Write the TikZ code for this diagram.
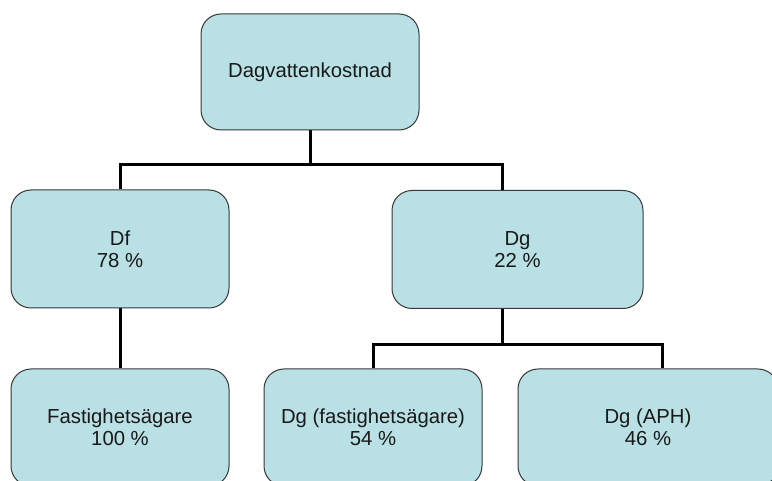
\documentclass[tikz,border=0pt]{standalone}
\usepackage{fontspec}
\setmainfont{Liberation Sans}
\usetikzlibrary{calc,backgrounds}
\definecolor{boxfill}{RGB}{185,224,228}
\definecolor{boxline}{RGB}{55,55,55}
\definecolor{txt}{RGB}{25,25,25}
\begin{document}
\begin{tikzpicture}[x=1pt,y=-1pt,
  box/.style={draw=boxline, line width=1pt, fill=boxfill, rounded corners=20pt,
    inner sep=0pt, align=center, text=txt, font=\fontsize{20.3}{22}\selectfont},
  conn/.style={line width=3pt, black}]
\useasboundingbox (0,0) rectangle (772,481);
\clip (0,0) rectangle (772,481);
\node[box, minimum width=218pt, minimum height=116pt] (top) at (310,72) {Dagvattenkostnad};
\node[box, minimum width=218pt, minimum height=118pt] (df) at (120,249) {Df\\78 \%};
\node[box, minimum width=251pt, minimum height=118pt] (dg) at (517.5,249.5) {Dg\\22 \%};
\node[box, minimum width=218pt, minimum height=117pt] (fa) at (120,427.5) {Fastighetsägare\\100 \%};
\node[box, minimum width=218pt, minimum height=117pt] (dgf) at (373,427.5) {Dg (fastighetsägare)\\54 \%};
\node[box, minimum width=260pt, minimum height=117pt] (aph) at (648,427.5) {Dg (APH)\\46 \%};
\coordinate (b1) at (310,165);
\coordinate (dgin) at ($(dg.north)+(-15.5,0)$);
\coordinate (dgout) at ($(dg.south)+(-15.5,0)$);
\coordinate (b2) at ($(dgout)+(0,35.5)$);
\coordinate (aphin) at ($(aph.north)+(14,0)$);
\begin{pgfonlayer}{background}
\draw[conn] (top.south) -- (b1);
\draw[conn] (df.north) |- (b1) -| (dgin);
\draw[conn] (df.south) -- (fa.north);
\draw[conn] (dgout) -- (b2);
\draw[conn] (dgf.north) |- (b2) -| (aphin);
\end{pgfonlayer}
\end{tikzpicture}
\end{document}
